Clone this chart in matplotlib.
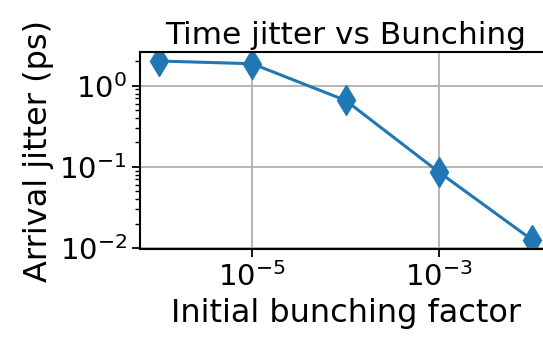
import matplotlib
matplotlib.use("Agg")
import matplotlib.pyplot as plt
from matplotlib.ticker import NullLocator

bunching = [1e-6, 1e-5, 1e-4, 1e-3, 1e-2]
jitter = [2.02, 1.87, 0.66, 0.086, 0.0125]
xticks = [1e-5, 1e-3]

fig = plt.figure(figsize=(5.43, 3.38), dpi=100)
ax = fig.add_axes([0.258, 0.263, 0.757, 0.583])
ax.plot(bunching, jitter, marker='d', markersize=15, linewidth=2.2, color='#1f77b4')
ax.set_xscale('log')
ax.set_yscale('log')
ax.set_xticks(xticks)
ax.xaxis.set_minor_locator(NullLocator())
ax.tick_params(labelsize=21)
ax.tick_params(which='major', length=6, width=1.3)
ax.tick_params(which='minor', length=3.5, width=1.0)
for s in ax.spines.values():
    s.set_linewidth(1.5)
ax.grid(True, linewidth=1.3)
ax.set_xlabel("Initial bunching factor", fontsize=23)
ax.set_ylabel("Arrival jitter (ps)", fontsize=23)
ax.set_title("Time jitter vs Bunching", fontsize=22.5)
fig.savefig("out.png", dpi=100)
